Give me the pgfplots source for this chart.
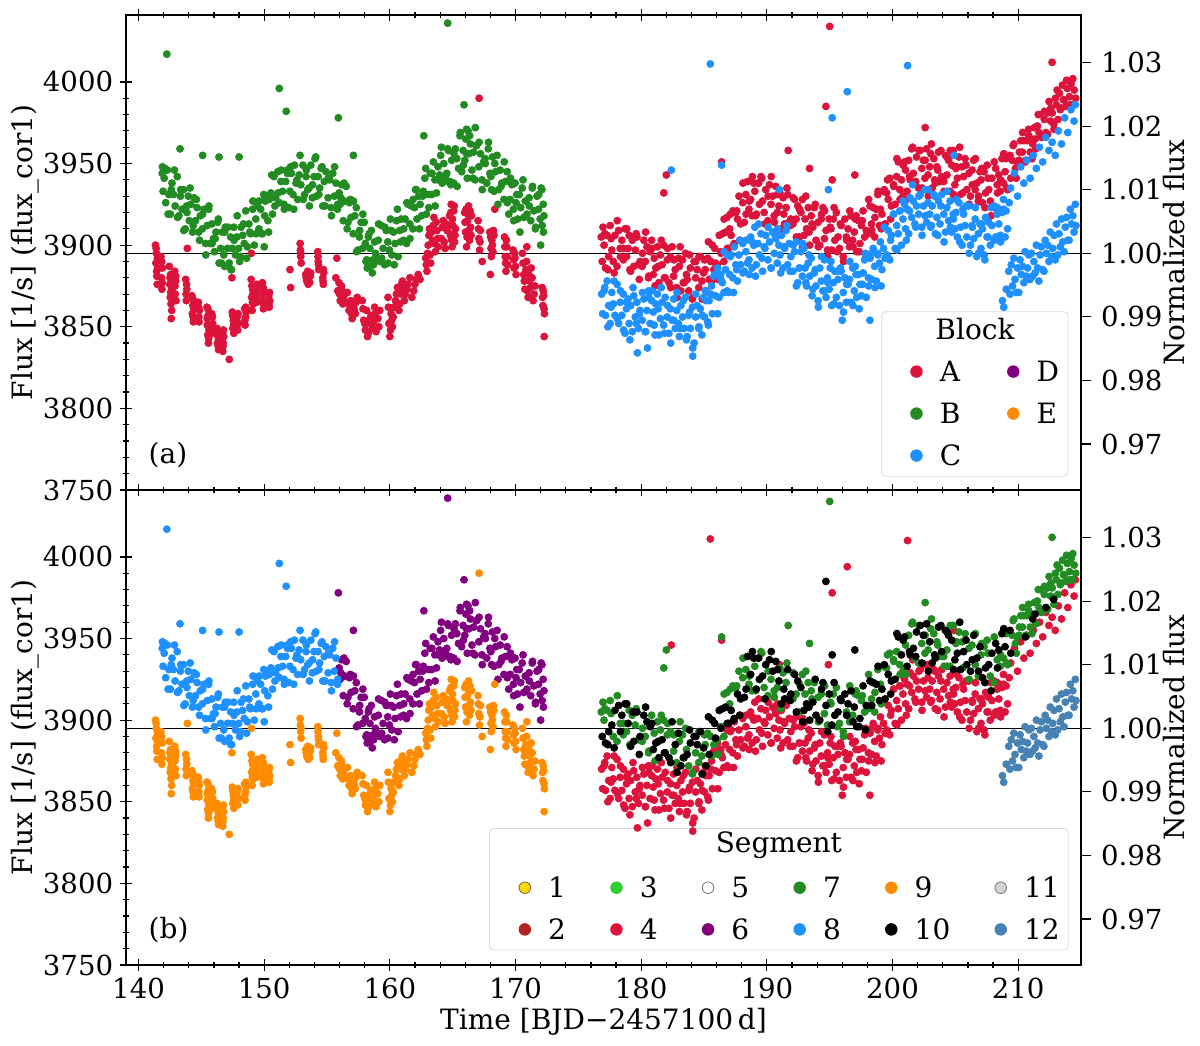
\documentclass[border=0pt]{standalone}
\usepackage{fontspec}
\setmainfont{DejaVu Serif}
\usepackage{pgfplots}
\usepackage{pgfplotstable}
\pgfplotsset{compat=1.18}
\definecolor{cCrimson}{HTML}{DC143C}
\definecolor{cForest}{HTML}{228B22}
\definecolor{cDodger}{HTML}{1E90FF}
\definecolor{cPurple}{HTML}{800080}
\definecolor{cOrange}{HTML}{FF8C00}
\definecolor{cGold}{HTML}{FFD700}
\definecolor{cFire}{HTML}{B22222}
\definecolor{cLime}{HTML}{32CD32}
\definecolor{cLGray}{HTML}{D3D3D3}
\definecolor{cSteel}{HTML}{4682B4}

% L1 first part (Block B / Segment 8)
\pgfplotstableread[row sep=\\]{t f\\
141.88 3944\\141.90 3948\\141.95 3933\\
142.04 3941\\142.16 3926\\142.29 3946\\142.41 3931\\142.53 3919\\142.66 3938\\142.78 3931\\142.91 3924\\
143.08 3942\\143.21 3918\\143.33 3930\\143.46 3922\\143.58 3934\\143.71 3910\\143.83 3924\\143.96 3930\\
144.04 3915\\144.16 3925\\144.29 3908\\144.41 3929\\144.53 3915\\144.66 3923\\144.78 3908\\144.91 3918\\
145.08 3910\\145.21 3922\\145.33 3901\\145.46 3912\\145.58 3922\\145.71 3901\\145.83 3913\\145.96 3904\\
146.04 3896\\146.16 3908\\146.29 3914\\146.41 3889\\146.53 3898\\146.66 3908\\146.78 3894\\146.91 3911\\
147.08 3898\\147.21 3889\\147.33 3905\\147.46 3898\\147.58 3911\\147.71 3894\\147.83 3905\\147.96 3898\\
148.04 3890\\148.16 3911\\148.29 3906\\148.41 3901\\148.53 3921\\148.66 3899\\148.78 3913\\148.91 3907\\
149.08 3922\\149.21 3900\\149.33 3916\\149.46 3924\\149.58 3910\\149.71 3922\\149.83 3907\\149.96 3931\\
150.04 3918\\150.16 3929\\150.29 3915\\150.41 3928\\150.53 3932\\150.66 3919\\150.78 3942\\150.91 3929\\
151.08 3945\\151.21 3926\\151.33 3939\\151.46 3933\\151.58 3925\\151.71 3939\\151.83 3946\\151.96 3923\\
152.04 3933\\152.16 3944\\152.29 3931\\152.41 3949\\152.53 3938\\152.66 3928\\152.78 3943\\152.91 3937\\
153.08 3949\\153.21 3931\\153.33 3942\\153.46 3934\\153.58 3935\\153.71 3949\\153.83 3929\\153.96 3942\\
154.04 3953\\154.16 3930\\154.29 3942\\154.41 3935\\154.53 3947\\154.66 3924\\154.78 3939\\154.91 3945\\
155.08 3929\\155.21 3940\\155.33 3923\\155.46 3944\\155.58 3930\\155.71 3938\\155.83 3922\\
142.25 4017\\143.30 3959\\145.10 3955\\146.40 3954\\148.00 3954\\151.20 3996\\151.75 3982\\150.00 3899\\147.40 3885\\146.85 3887\\
142.10 3947\\142.35 3919\\142.60 3934\\142.85 3946\\143.10 3917\\143.35 3934\\143.60 3909\\143.85 3920\\
144.10 3935\\144.35 3912\\144.60 3928\\144.85 3903\\145.10 3919\\145.35 3894\\145.60 3924\\145.85 3901\\
146.10 3904\\146.35 3916\\146.60 3889\\146.85 3908\\147.10 3911\\147.35 3885\\147.60 3903\\147.85 3918\\
148.10 3893\\148.35 3913\\148.60 3892\\148.85 3908\\149.10 3927\\149.35 3907\\149.60 3927\\149.85 3907\\
150.10 3927\\150.35 3908\\150.60 3943\\150.85 3924\\151.10 3932\\151.35 3946\\151.60 3922\\151.85 3944\\
152.10 3948\\152.35 3922\\152.60 3940\\152.85 3955\\153.10 3928\\153.35 3946\\153.60 3924\\153.85 3937\\
154.10 3954\\154.35 3931\\154.60 3948\\154.85 3924\\155.10 3941\\155.35 3918\\155.60 3948\\155.85 3925\\
}\LOneA

% L1 second part (Block B / Segment 6)
\pgfplotstableread[row sep=\\]{t f\\
155.90 3978\\155.96 3932\\
156.04 3925\\156.16 3937\\156.29 3915\\156.41 3927\\156.53 3936\\156.66 3914\\156.78 3926\\156.91 3917\\
157.08 3907\\157.21 3918\\157.33 3923\\157.46 3897\\157.58 3905\\157.71 3914\\157.83 3898\\157.96 3914\\
158.04 3901\\158.16 3891\\158.29 3905\\158.41 3898\\158.53 3909\\158.66 3891\\158.78 3902\\158.91 3893\\
159.08 3903\\159.21 3890\\159.33 3912\\159.46 3898\\159.58 3888\\159.71 3909\\159.83 3902\\159.96 3897\\
160.04 3916\\160.16 3894\\160.29 3908\\160.41 3901\\160.53 3915\\160.66 3893\\160.78 3909\\160.91 3916\\
161.08 3903\\161.21 3916\\161.33 3901\\161.46 3925\\161.58 3913\\161.71 3924\\161.83 3910\\161.96 3923\\
162.04 3934\\162.16 3916\\162.29 3930\\162.41 3925\\162.53 3918\\162.66 3933\\162.78 3941\\162.91 3919\\
163.08 3931\\163.21 3944\\163.33 3931\\163.46 3951\\163.58 3940\\163.71 3932\\163.83 3948\\163.96 3943\\
164.04 3955\\164.16 3938\\164.29 3950\\164.41 3942\\164.53 3944\\164.66 3958\\164.78 3939\\164.91 3952\\
165.08 3938\\165.21 3959\\165.33 3953\\165.46 3947\\165.58 3967\\165.71 3945\\165.83 3958\\165.96 3952\\
166.04 3965\\166.16 3941\\166.29 3956\\166.41 3962\\166.53 3946\\166.66 3957\\166.78 3940\\166.91 3961\\
167.08 3948\\167.21 3956\\167.33 3940\\167.46 3951\\167.58 3953\\167.71 3938\\167.83 3959\\167.96 3944\\
168.04 3942\\168.16 3954\\168.29 3933\\168.41 3945\\168.53 3955\\168.66 3934\\168.78 3946\\168.91 3938\\
169.08 3928\\169.21 3939\\169.33 3945\\169.46 3919\\169.58 3928\\169.71 3937\\169.83 3922\\169.96 3938\\
170.04 3926\\170.16 3916\\170.29 3931\\170.41 3923\\170.53 3935\\170.66 3917\\170.78 3927\\170.91 3919\\
171.08 3929\\171.21 3915\\171.33 3935\\171.46 3921\\171.58 3910\\171.71 3930\\171.83 3922\\171.96 3916\\
172.04 3935\\172.12 3912\\172.20 3925\\172.26 3918\\
157.10 3955\\162.70 3967\\164.60 4036\\165.90 3986\\166.80 3972\\172.00 3900\\166.10 3971\\166.22 3970\\158.20 3886\\158.45 3887\\158.70 3888\\
156.10 3929\\156.35 3938\\156.60 3910\\156.85 3928\\157.10 3927\\157.35 3896\\157.60 3909\\157.85 3919\\
158.10 3890\\158.35 3907\\158.60 3883\\158.85 3895\\159.10 3913\\159.35 3892\\159.60 3911\\159.85 3889\\
160.10 3909\\160.35 3888\\160.60 3922\\160.85 3902\\161.10 3910\\161.35 3926\\161.60 3904\\161.85 3928\\
162.10 3934\\162.35 3910\\162.60 3930\\162.85 3947\\163.10 3923\\163.35 3944\\163.60 3924\\163.85 3940\\
164.10 3960\\164.35 3939\\164.60 3959\\164.85 3937\\165.10 3956\\165.35 3936\\165.60 3969\\165.85 3949\\
166.10 3956\\166.35 3967\\166.60 3941\\166.85 3961\\167.10 3963\\167.35 3934\\167.60 3950\\167.85 3963\\
168.10 3934\\168.35 3950\\168.60 3925\\168.85 3936\\169.10 3951\\169.35 3926\\169.60 3941\\169.85 3915\\
170.10 3931\\170.35 3908\\170.60 3940\\170.85 3918\\171.10 3924\\171.35 3936\\171.60 3911\\171.85 3931\\
172.10 3934\\172.22 3908\\
}\LOneB

% L2 (Block A / Segment 9)
\pgfplotstableread[row sep=\\]{t f\\
141.35 3900\\141.38 3889\\141.42 3895\\141.45 3881\\141.48 3876\\141.52 3886\\
141.78 3893\\141.82 3880\\141.86 3873\\141.90 3886\\
142.45 3887\\142.48 3876\\142.52 3868\\142.55 3882\\142.58 3864\\142.62 3873\\142.60 3855\\
142.88 3884\\142.92 3870\\142.95 3878\\142.98 3866\\
143.75 3879\\143.80 3866\\143.84 3873\\143.88 3898\\
144.25 3869\\144.28 3858\\144.32 3863\\144.36 3853\\144.40 3866\\
144.76 3865\\144.80 3856\\144.84 3860\\
145.44 3862\\145.47 3851\\145.50 3845\\145.53 3857\\145.56 3840\\145.60 3848\\
145.82 3858\\145.86 3846\\145.90 3852\\
146.25 3849\\146.28 3840\\146.32 3844\\146.36 3836\\146.40 3846\\
146.66 3846\\146.70 3835\\146.74 3840\\146.78 3844\\
147.22 3830\\147.43 3880\\
147.46 3859\\147.50 3849\\147.54 3854\\147.58 3846\\
147.86 3856\\147.90 3848\\147.95 3852\\
148.44 3861\\148.48 3851\\148.52 3856\\148.56 3859\\
148.96 3879\\148.98 3895\\149.00 3868\\149.04 3860\\149.08 3873\\149.12 3864\\
149.36 3873\\149.40 3865\\149.44 3870\\
149.86 3877\\149.90 3866\\149.94 3861\\149.98 3872\\
150.36 3869\\150.40 3862\\150.44 3866\\
152.05 3885\\152.10 3874\\
152.86 3901\\152.90 3893\\152.94 3889\\
153.30 3882\\153.38 3878\\153.46 3884\\153.55 3880\\153.62 3877\\153.70 3883\\
154.26 3896\\154.30 3890\\154.34 3885\\
154.66 3880\\154.70 3876\\154.74 3883\\
155.70 3880\\155.78 3892\\155.85 3872\\155.95 3877\\156.05 3866\\156.15 3875\\156.25 3864\\156.35 3869\\
156.62 3871\\156.75 3860\\156.88 3866\\157.00 3855\\157.12 3862\\157.25 3858\\157.40 3868\\
157.80 3866\\157.92 3854\\158.05 3848\\158.15 3860\\158.22 3844\\158.35 3852\\158.50 3857\\158.62 3849\\158.78 3862\\158.90 3847\\159.05 3855\\159.20 3860\\
159.85 3868\\159.92 3852\\160.00 3844\\160.10 3858\\160.20 3850\\160.32 3862\\
160.45 3866\\160.60 3874\\160.72 3860\\160.85 3870\\161.00 3878\\161.15 3866\\161.35 3873\\161.60 3880\\
161.75 3868\\162.00 3876\\162.25 3882\\162.40 3879\\
162.85 3892\\162.95 3884\\163.05 3900\\163.15 3910\\163.25 3889\\163.40 3903\\163.50 3917\\163.62 3896\\163.75 3909\\163.85 3899\\
164.10 3904\\164.25 3915\\164.40 3898\\164.55 3909\\
164.75 3918\\164.82 3906\\164.88 3925\\164.95 3899\\165.02 3912\\165.08 3921\\165.15 3902\\165.22 3910\\
165.95 3920\\166.02 3908\\166.10 3899\\166.18 3915\\166.26 3924\\166.34 3903\\166.42 3911\\166.50 3918\\
167.02 3915\\167.08 3904\\167.10 3990\\167.14 3897\\167.20 3909\\167.35 3890\\
167.95 3908\\168.00 3882\\168.05 3898\\168.12 3903\\168.20 3896\\168.28 3906\\168.35 3922\\
169.12 3905\\169.18 3893\\169.24 3884\\169.30 3899\\169.36 3888\\
169.80 3897\\169.88 3886\\169.96 3892\\170.04 3882\\
170.55 3895\\170.65 3882\\170.75 3873\\170.88 3890\\170.90 3899\\171.00 3868\\171.12 3878\\171.25 3886\\171.40 3866\\171.55 3875\\
172.12 3874\\172.18 3863\\172.24 3869\\172.28 3844\\172.30 3858\\
141.40 3898\\141.44 3884\\141.50 3892\\141.84 3890\\141.88 3877\\142.50 3880\\142.56 3871\\142.64 3860\\
142.90 3875\\142.96 3881\\143.78 3870\\143.82 3876\\144.30 3867\\144.34 3856\\144.38 3861\\144.78 3862\\144.82 3853\\
145.46 3855\\145.52 3861\\145.58 3843\\145.84 3850\\145.88 3856\\146.27 3847\\146.34 3838\\146.38 3842\\
146.68 3843\\146.72 3838\\146.76 3848\\147.48 3857\\147.56 3851\\147.88 3852\\147.92 3858\\148.46 3854\\148.54 3862\\
149.02 3875\\149.06 3865\\149.10 3870\\149.38 3868\\149.42 3876\\149.88 3870\\149.92 3874\\149.96 3864\\150.38 3864\\150.42 3871\\
152.88 3897\\152.92 3895\\153.34 3880\\153.50 3876\\153.66 3881\\154.28 3893\\154.32 3888\\154.68 3878\\154.72 3885\\
156.00 3870\\156.20 3872\\156.30 3866\\156.70 3864\\156.95 3858\\157.18 3860\\157.32 3865\\
157.86 3861\\158.00 3852\\158.28 3846\\158.44 3855\\158.70 3853\\158.84 3858\\159.12 3850\\
159.88 3862\\160.05 3848\\160.15 3854\\160.26 3856\\160.52 3870\\160.78 3864\\160.92 3876\\161.08 3872\\161.25 3870\\161.45 3876\\
161.90 3872\\162.10 3879\\162.32 3880\\162.90 3888\\163.00 3895\\163.10 3906\\163.20 3894\\163.32 3908\\163.45 3912\\163.56 3901\\163.68 3914\\163.80 3904\\
164.18 3911\\164.32 3902\\164.48 3913\\164.78 3912\\164.85 3920\\164.92 3903\\164.98 3916\\165.05 3907\\165.12 3924\\165.18 3906\\
165.98 3914\\166.06 3922\\166.14 3905\\166.22 3919\\166.30 3909\\166.38 3921\\166.46 3906\\167.05 3910\\167.17 3902\\
168.02 3905\\168.08 3893\\168.16 3900\\168.24 3909\\169.15 3899\\169.21 3889\\169.27 3903\\169.33 3893\\
169.84 3891\\169.92 3895\\170.00 3887\\170.60 3889\\170.70 3878\\170.82 3885\\170.95 3872\\171.06 3882\\171.18 3874\\171.32 3880\\171.48 3870\\
172.15 3868\\172.21 3872\\172.27 3861\\
}\LTwo

% R1 green part (Block A / Segment 7)
\pgfplotstableread[row sep=\\]{t f\\
176.82 3905\\176.96 3911\\
177.04 3900\\177.29 3906\\177.53 3912\\177.78 3890\\178.08 3887\\178.33 3898\\178.58 3891\\178.83 3893\\
179.04 3906\\179.29 3903\\179.53 3897\\179.78 3888\\180.08 3887\\180.33 3890\\180.58 3880\\180.83 3903\\
181.04 3892\\181.29 3899\\181.53 3894\\181.78 3900\\182.08 3891\\182.33 3893\\182.58 3881\\182.83 3874\\
183.04 3887\\183.29 3891\\183.53 3895\\183.78 3872\\184.08 3867\\184.33 3880\\184.58 3874\\184.83 3878\\
185.04 3891\\185.29 3892\\185.53 3890\\185.78 3885\\186.08 3888\\186.33 3896\\186.58 3890\\186.83 3917\\
187.04 3910\\187.29 3921\\187.53 3920\\187.78 3930\\188.08 3926\\188.33 3931\\188.58 3922\\188.83 3918\\
189.04 3933\\189.29 3938\\189.53 3942\\189.78 3920\\190.08 3915\\190.33 3925\\190.58 3918\\190.83 3920\\
191.04 3932\\191.29 3929\\191.53 3923\\191.78 3914\\192.08 3913\\192.33 3916\\192.58 3905\\192.83 3928\\
193.04 3916\\193.29 3923\\193.53 3918\\193.78 3923\\194.08 3914\\194.33 3916\\194.58 3904\\194.83 3897\\
195.04 3911\\195.29 3916\\195.53 3920\\195.78 3898\\196.08 3893\\196.33 3905\\196.58 3899\\196.83 3903\\
197.04 3916\\197.29 3915\\197.53 3912\\197.78 3905\\198.08 3907\\198.33 3913\\198.58 3905\\198.83 3931\\
199.04 3922\\199.29 3933\\199.53 3932\\199.78 3941\\200.08 3937\\200.33 3942\\200.58 3934\\200.83 3930\\
201.04 3946\\201.29 3952\\201.53 3959\\201.78 3938\\202.08 3935\\202.33 3947\\202.58 3941\\202.83 3943\\
203.04 3956\\203.29 3953\\203.53 3948\\203.78 3939\\204.08 3939\\204.33 3943\\204.58 3933\\204.83 3958\\
205.04 3947\\205.29 3954\\205.53 3948\\205.78 3953\\206.08 3944\\206.33 3946\\206.58 3934\\206.83 3927\\
207.04 3940\\207.29 3945\\207.53 3949\\207.78 3927\\208.08 3923\\208.33 3937\\208.58 3933\\208.83 3938\\
209.04 3953\\209.16 3934\\209.29 3954\\209.53 3952\\209.66 3962\\209.78 3947\\209.91 3951\\
210.08 3952\\210.21 3964\\210.33 3957\\210.46 3964\\210.71 3964\\210.83 3971\\210.96 3957\\
211.04 3964\\211.29 3972\\211.41 3959\\211.53 3973\\211.66 3969\\211.78 3980\\211.91 3967\\
212.08 3977\\212.33 3981\\212.46 3988\\212.58 3976\\212.71 3981\\212.96 3990\\
213.04 3986\\213.16 3977\\213.29 3993\\213.41 3984\\213.53 3998\\213.66 3989\\213.78 3985\\213.91 3996\\
214.08 3991\\214.21 3999\\214.33 3986\\214.46 3995\\214.58 3990\\
195.00 4034\\182.00 3943\\181.80 3932\\186.40 3951\\191.70 3958\\193.40 3947\\212.70 4012\\202.60 3972\\
177.10 3907\\177.60 3904\\178.10 3915\\178.60 3898\\179.10 3885\\179.60 3907\\180.10 3895\\180.60 3881\\
181.10 3875\\181.60 3903\\182.10 3898\\182.60 3891\\183.10 3899\\183.60 3882\\184.10 3868\\184.60 3893\\
185.10 3885\\185.60 3878\\186.10 3879\\186.60 3916\\187.10 3919\\187.60 3921\\188.10 3938\\188.60 3927\\
189.10 3918\\189.60 3941\\190.10 3930\\190.60 3914\\191.10 3907\\191.60 3935\\192.10 3929\\192.60 3922\\
193.10 3930\\193.60 3913\\194.10 3899\\194.60 3921\\195.10 3910\\195.60 3896\\196.10 3890\\196.60 3921\\
197.10 3918\\197.60 3915\\198.10 3928\\198.60 3917\\199.10 3910\\199.60 3940\\200.10 3936\\200.60 3928\\
201.10 3928\\201.60 3960\\202.10 3958\\202.60 3952\\203.10 3962\\203.60 3946\\204.10 3933\\204.60 3958\\
205.10 3948\\205.60 3932\\206.10 3925\\206.60 3953\\207.10 3947\\207.60 3941\\208.10 3951\\208.60 3940\\
209.10 3935\\209.60 3961\\209.85 3941\\210.10 3957\\210.35 3969\\210.60 3952\\210.85 3967\\
211.10 3953\\211.60 3980\\211.85 3966\\212.10 3982\\212.35 3968\\212.60 3984\\212.85 3971\\
213.10 3995\\213.35 3983\\213.60 3989\\213.85 4001\\214.10 3986\\214.35 4002\\
}\ROneG

% R1 black part (Block A / Segment 10)
\pgfplotstableread[row sep=\\]{t f\\
176.90 3890\\
177.16 3886\\177.41 3893\\177.66 3897\\177.91 3906\\178.21 3909\\178.46 3903\\178.71 3910\\178.96 3898\\
179.16 3884\\179.41 3887\\179.66 3905\\179.91 3890\\180.21 3903\\180.46 3899\\180.71 3896\\180.96 3882\\
181.16 3886\\181.41 3877\\181.66 3888\\181.91 3880\\182.21 3877\\182.46 3899\\182.71 3885\\182.96 3892\\
183.16 3872\\183.41 3877\\183.66 3879\\183.91 3886\\184.21 3890\\184.46 3885\\184.71 3893\\184.96 3883\\
185.16 3872\\185.41 3879\\185.66 3900\\185.91 3889\\186.21 3906\\186.46 3907\\186.71 3908\\186.96 3898\\
187.16 3906\\187.41 3901\\187.66 3916\\187.91 3913\\188.21 3914\\188.46 3939\\188.71 3928\\188.96 3938\\
189.16 3919\\189.41 3925\\189.66 3927\\189.91 3934\\190.21 3937\\190.46 3930\\190.71 3936\\190.96 3924\\
191.16 3910\\191.41 3913\\191.66 3931\\191.91 3916\\192.21 3928\\192.46 3924\\192.71 3920\\192.96 3906\\
193.16 3910\\193.41 3900\\193.66 3911\\193.91 3903\\194.21 3900\\194.46 3923\\194.71 3909\\194.96 3916\\
195.16 3897\\195.41 3903\\195.66 3905\\195.91 3912\\196.21 3916\\196.46 3910\\196.71 3918\\196.96 3908\\
197.16 3896\\197.41 3901\\197.66 3921\\197.91 3909\\198.21 3924\\198.46 3923\\198.71 3922\\198.96 3912\\
199.16 3919\\199.41 3913\\199.66 3928\\199.91 3924\\200.21 3925\\200.46 3951\\200.71 3940\\200.96 3951\\
201.16 3933\\201.41 3940\\201.66 3944\\201.91 3954\\202.21 3958\\202.46 3952\\202.71 3959\\202.96 3948\\
203.16 3935\\203.41 3938\\203.66 3957\\203.91 3942\\204.21 3955\\204.46 3952\\204.71 3949\\204.96 3937\\
205.16 3941\\205.41 3931\\205.66 3942\\205.91 3934\\206.21 3930\\206.46 3952\\206.71 3938\\206.96 3945\\
207.16 3926\\207.41 3932\\207.66 3934\\207.91 3941\\208.21 3947\\208.46 3943\\208.71 3953\\208.96 3945\\
209.41 3941\\210.58 3951\\211.16 3962\\212.21 3969\\212.83 3974\\
194.70 3985\\197.00 3943\\195.20 3940\\
177.35 3885\\177.85 3883\\178.35 3893\\178.85 3910\\179.35 3905\\179.85 3879\\180.35 3908\\180.85 3898\\
181.35 3887\\181.85 3880\\182.35 3874\\182.85 3868\\183.35 3877\\183.85 3894\\184.35 3890\\184.85 3867\\
185.35 3902\\185.85 3898\\186.35 3895\\186.85 3898\\187.35 3900\\187.85 3903\\188.35 3919\\188.85 3942\\
189.35 3938\\189.85 3913\\190.35 3942\\190.85 3931\\191.35 3919\\191.85 3912\\192.35 3905\\192.85 3899\\
193.35 3908\\193.85 3925\\194.35 3919\\194.85 3893\\195.35 3923\\195.85 3913\\196.35 3903\\196.85 3899\\
197.35 3896\\197.85 3894\\198.35 3909\\198.85 3933\\199.35 3934\\199.85 3916\\200.35 3953\\200.85 3949\\
201.35 3942\\201.85 3939\\202.35 3935\\202.85 3930\\203.35 3940\\203.85 3958\\204.35 3954\\204.85 3931\\
205.35 3960\\205.85 3949\\206.35 3937\\206.85 3930\\207.35 3923\\207.85 3918\\208.35 3932\\208.85 3956\\
209.35 3955\\211.35 3965\\
}\ROneK

% R2 main (Block C / Segment 4)
\pgfplotstableread[row sep=\\]{t f\\
176.85 3870\\176.93 3858\\
177.04 3872\\177.16 3857\\177.29 3878\\177.41 3863\\177.53 3852\\177.66 3871\\177.78 3864\\177.91 3857\\
178.08 3876\\178.21 3852\\178.33 3865\\178.46 3857\\178.58 3870\\178.71 3846\\178.83 3861\\178.96 3867\\
179.04 3852\\179.16 3863\\179.29 3847\\179.41 3869\\179.53 3856\\179.66 3865\\179.78 3849\\179.91 3860\\
180.08 3854\\180.21 3867\\180.33 3847\\180.46 3860\\180.58 3872\\180.71 3852\\180.83 3866\\180.96 3859\\
181.04 3851\\181.16 3864\\181.29 3870\\181.41 3845\\181.53 3855\\181.66 3865\\181.78 3851\\181.91 3868\\
182.08 3856\\182.21 3846\\182.33 3861\\182.46 3854\\182.58 3867\\182.71 3849\\182.83 3860\\182.96 3852\\
183.04 3844\\183.16 3863\\183.29 3856\\183.41 3849\\183.53 3868\\183.66 3844\\183.78 3857\\183.91 3849\\
184.08 3862\\184.21 3840\\184.33 3856\\184.46 3863\\184.58 3849\\184.71 3861\\184.83 3845\\184.96 3868\\
185.04 3856\\185.16 3866\\185.29 3853\\185.41 3866\\185.53 3870\\185.66 3858\\185.78 3881\\185.91 3869\\
186.08 3886\\186.21 3868\\186.33 3882\\186.46 3877\\186.58 3871\\186.71 3885\\186.83 3894\\186.96 3871\\
187.04 3882\\187.16 3894\\187.29 3880\\187.41 3899\\187.53 3888\\187.66 3878\\187.78 3894\\187.91 3888\\
188.08 3901\\188.21 3884\\188.33 3896\\188.46 3889\\188.58 3891\\188.71 3905\\188.83 3886\\188.96 3900\\
189.04 3911\\189.16 3888\\189.29 3901\\189.41 3894\\189.53 3907\\189.66 3884\\189.78 3899\\189.91 3906\\
190.08 3891\\190.21 3902\\190.33 3886\\190.46 3908\\190.58 3895\\190.71 3904\\190.83 3889\\190.96 3900\\
191.04 3894\\191.16 3906\\191.29 3886\\191.41 3898\\191.53 3909\\191.66 3888\\191.78 3901\\191.91 3893\\
192.08 3884\\192.21 3896\\192.33 3902\\192.46 3877\\192.58 3886\\192.71 3896\\192.83 3881\\192.96 3898\\
193.04 3886\\193.16 3875\\193.29 3889\\193.41 3881\\193.53 3892\\193.66 3873\\193.78 3883\\193.91 3875\\
194.08 3866\\194.21 3886\\194.33 3878\\194.46 3872\\194.58 3891\\194.71 3868\\194.83 3880\\194.96 3873\\
195.04 3886\\195.16 3863\\195.29 3877\\195.41 3884\\195.53 3868\\195.66 3879\\195.78 3863\\195.91 3884\\
196.08 3871\\196.21 3880\\196.33 3865\\196.46 3876\\196.58 3879\\196.71 3865\\196.83 3886\\196.96 3872\\
197.04 3887\\197.16 3868\\197.29 3882\\197.41 3876\\197.53 3869\\197.66 3883\\197.78 3891\\197.91 3868\\
198.08 3880\\198.21 3892\\198.33 3879\\198.46 3898\\198.58 3887\\198.71 3878\\198.83 3894\\198.96 3889\\
199.04 3902\\199.16 3885\\199.29 3898\\199.41 3892\\199.53 3894\\199.66 3909\\199.78 3891\\199.91 3906\\
200.08 3919\\200.21 3898\\200.33 3912\\200.46 3907\\200.58 3921\\200.71 3900\\200.83 3916\\200.96 3925\\
201.04 3910\\201.16 3922\\201.29 3907\\201.41 3929\\201.53 3917\\201.66 3927\\201.78 3913\\201.91 3924\\
202.08 3919\\202.21 3931\\202.33 3911\\202.46 3924\\202.58 3934\\202.71 3914\\202.83 3926\\202.96 3919\\
203.04 3911\\203.16 3924\\203.29 3931\\203.41 3907\\203.53 3917\\203.66 3927\\203.78 3913\\203.91 3931\\
204.08 3919\\204.21 3908\\204.33 3923\\204.46 3915\\204.58 3927\\204.71 3908\\204.83 3919\\204.96 3910\\
205.04 3920\\205.16 3905\\205.29 3926\\205.41 3911\\205.53 3900\\205.66 3919\\205.78 3912\\205.91 3905\\
206.08 3924\\206.21 3900\\206.33 3912\\206.46 3904\\206.58 3916\\206.71 3893\\206.83 3907\\206.96 3913\\
207.04 3898\\207.16 3910\\207.29 3894\\207.41 3917\\207.53 3905\\207.66 3914\\207.78 3900\\207.91 3912\\
208.08 3924\\208.21 3905\\208.33 3919\\208.46 3913\\208.58 3906\\208.71 3920\\208.83 3928\\208.96 3905\\
209.04 3921\\209.16 3910\\209.29 3926\\
209.40 3935\\209.70 3944\\209.95 3930\\210.20 3948\\210.45 3938\\210.70 3952\\210.95 3941\\211.20 3955\\211.45 3947\\211.70 3960\\211.95 3951\\
212.20 3966\\212.45 3958\\212.70 3963\\212.95 3955\\213.20 3970\\213.45 3962\\213.70 3978\\213.95 3969\\214.20 3983\\214.45 3976\\214.55 3986\\
185.50 4011\\201.20 4010\\196.40 3994\\195.20 3978\\182.40 3946\\186.40 3949\\194.90 3934\\191.00 3934\\204.90 3955\\
196.00 3854\\198.20 3854\\179.70 3834\\180.50 3837\\184.10 3832\\
177.10 3874\\177.35 3850\\177.60 3862\\177.85 3878\\178.10 3855\\178.35 3872\\178.60 3848\\178.85 3865\\
179.10 3842\\179.35 3874\\179.60 3852\\179.85 3858\\180.10 3871\\180.35 3847\\180.60 3868\\180.85 3872\\
181.10 3845\\181.35 3861\\181.60 3874\\181.85 3846\\182.10 3863\\182.35 3840\\182.60 3854\\182.85 3871\\
183.10 3849\\183.35 3866\\183.60 3842\\183.85 3859\\184.10 3837\\184.35 3870\\184.60 3850\\184.85 3857\\
185.10 3872\\185.35 3851\\185.60 3875\\185.85 3882\\186.10 3858\\186.35 3879\\186.60 3896\\186.85 3872\\
187.10 3893\\187.35 3871\\187.60 3885\\187.85 3903\\188.10 3883\\188.35 3903\\188.60 3882\\188.85 3902\\
189.10 3881\\189.35 3913\\189.60 3892\\189.85 3898\\190.10 3911\\190.35 3886\\190.60 3907\\190.85 3910\\
191.10 3883\\191.35 3899\\191.60 3912\\191.85 3884\\192.10 3900\\192.35 3875\\192.60 3886\\192.85 3901\\
193.10 3877\\193.35 3894\\193.60 3869\\193.85 3885\\194.10 3862\\194.35 3893\\194.60 3872\\194.85 3877\\
195.10 3890\\195.35 3864\\195.60 3884\\195.85 3886\\196.10 3859\\196.35 3876\\196.60 3890\\196.85 3863\\
197.10 3882\\197.35 3861\\197.60 3876\\197.85 3895\\198.10 3875\\198.35 3895\\198.60 3874\\198.85 3895\\
199.10 3875\\199.35 3911\\199.60 3893\\199.85 3903\\200.10 3919\\200.35 3897\\200.60 3921\\200.85 3927\\
201.10 3903\\201.35 3921\\201.60 3937\\201.85 3911\\202.10 3930\\202.35 3906\\202.60 3918\\202.85 3934\\
203.10 3912\\203.35 3930\\203.60 3906\\203.85 3924\\204.10 3902\\204.35 3933\\204.60 3911\\204.85 3916\\
205.10 3928\\205.35 3902\\205.60 3922\\205.85 3924\\206.10 3895\\206.35 3911\\206.60 3923\\206.85 3895\\
207.10 3913\\207.35 3891\\207.60 3905\\207.85 3923\\208.10 3903\\208.35 3923\\208.60 3902\\208.85 3922\\
}\RTwoR

% R2 lower branch (Block C / Segment 12)
\pgfplotstableread[row sep=\\]{t f\\
208.75 3866\\208.85 3862\\209.05 3873\\
209.25 3884\\209.35 3870\\209.45 3888\\209.55 3875\\209.65 3892\\209.75 3879\\209.85 3871\\209.95 3886\\
210.05 3871\\210.15 3891\\210.25 3882\\210.35 3887\\210.45 3877\\210.55 3896\\210.65 3881\\210.75 3886\\210.85 3894\\210.95 3879\\
211.05 3895\\211.15 3881\\211.25 3890\\211.35 3883\\211.45 3900\\211.55 3886\\211.65 3878\\211.75 3894\\211.85 3899\\211.95 3885\\
212.05 3884\\212.15 3903\\212.25 3895\\212.35 3900\\212.45 3890\\212.55 3908\\212.65 3893\\212.75 3898\\212.85 3906\\212.95 3891\\
213.05 3913\\213.15 3894\\213.25 3907\\213.35 3899\\213.45 3916\\213.55 3902\\213.65 3896\\213.75 3911\\213.85 3917\\213.95 3903\\
214.05 3903\\214.15 3922\\214.25 3913\\214.35 3918\\214.45 3908\\214.55 3925\\214.60 3912\\
}\RTwoS

\newcommand{\fs}{\fontsize{14}{17}\selectfont}
\pgfplotsset{
  panel/.style={
    scale only axis, width=477.5pt, height=237.5pt,
    xmin=139, xmax=215, ymin=3750, ymax=4041,
    xtick={140,150,...,210}, minor x tick num=4,
    ytick={3750,3800,...,4000}, minor y tick num=4,
    tick align=center, major tick length=5.8pt, minor tick length=3.3pt,
    xtick pos=both, ytick pos=left,
    tick style={black, line width=0.6pt},
    axis line style={line width=0.6pt},
    tick label style={font=\fontsize{13.8}{16}\selectfont},
    /pgf/number format/assume math mode=true,
    /pgf/number format/1000 sep={},
    scaled ticks=false,
    ylabel={Flux [1/s] (flux\_cor1)},
    ylabel style={at={(axis description cs:-0.1058,0.5)}, anchor=center, font=\fs},
    legend cell align=left,
  },
  rightpanel/.style={
    scale only axis, width=477.5pt, height=237.5pt,
    xmin=139, xmax=215, ymin=0.962773, ymax=1.037484,
    axis x line=none, axis y line*=right,
    ytick={0.97,0.98,0.99,1.00,1.01,1.02,1.03},
    yticklabel style={/pgf/number format/.cd, fixed, fixed zerofill, precision=2},
    tick align=outside, major tick length=5pt,
    tick style={black, line width=0.6pt},
    axis line style={line width=0.6pt},
    tick label style={font=\fontsize{13.8}{16}\selectfont, xshift=1.5pt},
    /pgf/number format/assume math mode=true,
    ylabel={Normalized flux},
    ylabel style={at={(axis description cs:1.0974,0.5)}, anchor=center, font=\fs},
  },
  dots/.style={only marks, mark=*, mark size=1.75pt, mark options={draw=none}, forget plot},
  legdot/.style={mark=*, mark size=2.9pt,
    legend image code/.code={\path (0pt,-3pt) (17pt,3pt);\draw[##1] plot coordinates {(8.5pt,0pt)};}},
}

\begin{document}
\begin{tikzpicture}
\useasboundingbox (0,0) rectangle (600pt,522.5pt);

% ---------- top panel ----------
\begin{axis}[panel, at={(63pt,277.5pt)}, anchor=south west, xticklabels={},
  legend columns=2,
  legend style={at={(axis description cs:0.8091,0.2712)}, anchor=north west, draw=none, fill=none,
    inner sep=0pt, row sep=11pt, font=\fs,
    nodes={inner xsep=3pt, inner ysep=0pt, text height=10pt, text depth=0pt},
    /tikz/every even column/.append style={column sep=14.3pt}}]
\addplot[dots, cCrimson] table {\LTwo};
\addplot[dots, cCrimson] table {\ROneG};
\addplot[dots, cCrimson] table {\ROneK};
\addplot[dots, cForest] table {\LOneA};
\addplot[dots, cForest] table {\LOneB};
\addplot[dots, cDodger] table {\RTwoR};
\addplot[dots, cDodger] table {\RTwoS};
\addplot[forget plot, black, line width=0.7pt] coordinates {(139,3895) (215,3895)};
\draw[rounded corners=2pt, draw=black!15, fill=white, fill opacity=0.8] (axis description cs:0.7913,0.0291) rectangle (axis description cs:0.9864,0.3753);
\node[font=\fs] at (axis description cs:0.889,0.3388) {Block};
\node[font=\fs, anchor=west] at (axis description cs:0.0164,0.073) {(a)};
\addlegendimage{legdot, cCrimson}\addlegendentry{A}
\addlegendimage{legdot, cPurple}\addlegendentry{D}
\addlegendimage{legdot, cForest}\addlegendentry{B}
\addlegendimage{legdot, cOrange}\addlegendentry{E}
\addlegendimage{legdot, cDodger}\addlegendentry{C}
\end{axis}
\begin{axis}[rightpanel, at={(63pt,277.5pt)}, anchor=south west]
\end{axis}

% ---------- bottom panel ----------
\begin{axis}[panel, at={(63pt,40pt)}, anchor=south west,
  xlabel={Time [BJD−2457100\,d]},
  xlabel style={at={(axis description cs:0.5,-0.12)}, anchor=center, font=\fs},
  legend columns=6,
  legend style={at={(axis description cs:0.3990,0.1846)}, anchor=north west, draw=none, fill=none,
    inner sep=0pt, row sep=10.85pt, font=\fs,
    nodes={inner xsep=3pt, inner ysep=0pt, text height=10pt, text depth=0pt},
    /tikz/every even column/.append style={column sep=13.5pt}}]
\addplot[dots, cCrimson] table {\RTwoR};
\addplot[dots, cPurple] table {\LOneB};
\addplot[dots, cForest] table {\ROneG};
\addplot[dots, cDodger] table {\LOneA};
\addplot[dots, cOrange] table {\LTwo};
\addplot[dots, black] table {\ROneK};
\addplot[dots, cSteel] table {\RTwoS};
\addplot[forget plot, black, line width=0.7pt] coordinates {(139,3895) (215,3895)};
\draw[rounded corners=2pt, draw=black!15, fill=white, fill opacity=0.8] (axis description cs:0.3807,0.0315) rectangle (axis description cs:0.9866,0.2875);
\node[font=\fs] at (axis description cs:0.6836,0.2524) {Segment};
\node[font=\fs, anchor=west] at (axis description cs:0.0164,0.0736) {(b)};
\addlegendimage{legdot, mark options={fill=cGold, draw=black!60}}\addlegendentry{1}
\addlegendimage{legdot, cLime}\addlegendentry{3}
\addlegendimage{legdot, mark options={fill=white, draw=black!55}}\addlegendentry{5}
\addlegendimage{legdot, cForest}\addlegendentry{7}
\addlegendimage{legdot, cOrange}\addlegendentry{9}
\addlegendimage{legdot, mark options={fill=cLGray, draw=black!55}}\addlegendentry{11}
\addlegendimage{legdot, cFire}\addlegendentry{2}
\addlegendimage{legdot, cCrimson}\addlegendentry{4}
\addlegendimage{legdot, cPurple}\addlegendentry{6}
\addlegendimage{legdot, cDodger}\addlegendentry{8}
\addlegendimage{legdot, black}\addlegendentry{10}
\addlegendimage{legdot, cSteel}\addlegendentry{12}
\end{axis}
\begin{axis}[rightpanel, at={(63pt,40pt)}, anchor=south west]
\end{axis}
\end{tikzpicture}
\end{document}
